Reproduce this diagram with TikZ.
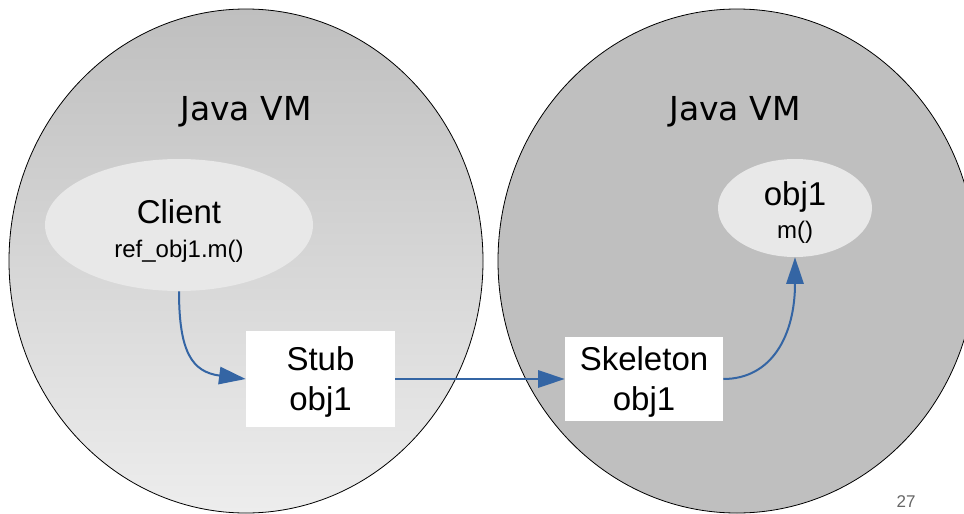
\documentclass[tikz,border=0pt]{standalone}
\usepackage{fontspec}
\setmainfont{Liberation Sans}
\newfontfamily\djv{DejaVu Sans}
\usetikzlibrary{arrows.meta,shapes.geometric}
\definecolor{arrowblue}{HTML}{3465A4}
\definecolor{vmtop}{HTML}{BFBFBF}
\definecolor{vmbot}{HTML}{EDEDED}
\definecolor{vmright}{HTML}{BFBFBF}
\definecolor{inner}{HTML}{E8E8E8}
\definecolor{pagegray}{HTML}{666666}
\tikzset{
  vm/.style={ellipse, draw=black, line width=0.6pt, inner sep=0pt, minimum width=#1, minimum height=378pt},
  vmlabel/.style={anchor=base, font=\djv\fontsize{24.75}{30}\selectfont},
  objell/.style={ellipse, fill=inner, draw=none, inner sep=0pt},
  boxnode/.style={rectangle, fill=white, draw=none, inner sep=0pt, align=center, text depth=0pt, font=\fontsize{24.75}{30}\selectfont},
  bigtxt/.style={anchor=base, font=\fontsize{24.75}{30}\selectfont},
  smalltxt/.style={anchor=base, font=\fontsize{18}{22}\selectfont},
  conn/.style={draw=arrowblue, line width=1.5pt, -{Triangle[length=20pt, width=13pt]}, fill=none},
}
\begin{document}
\begin{tikzpicture}[x=0.75pt,y=-0.75pt]
\useasboundingbox (0,0) rectangle (964,514);
\fill[white] (0,0) rectangle (964,514);
% virtual machines
\node[vm=355.5pt, top color=vmtop, bottom color=vmbot] (vmL) at (246,261) {};
\node[vm=358.5pt, fill=vmright] (vmR) at (737,261) {};
\node[vmlabel] (vmLt) at (246,120) {Java VM};
\node[vmlabel] (vmRt) at (735,120) {Java VM};
% client
\node[objell, minimum width=201pt, minimum height=99pt] (client) at (179,225) {};
\node[bigtxt] (clientt) at (179,223) {Client};
\node[smalltxt] (clientm) at (179,257) {ref\_obj1.m()};
% obj1
\node[objell, minimum width=115.5pt, minimum height=73.5pt] (obj) at (795,208) {};
\node[bigtxt] (objt) at (795,205) {obj1};
\node[smalltxt] (objm) at (795,238) {m()};
% stub and skeleton
\node[boxnode, minimum width=111.75pt, minimum height=72pt] (stub) at (320.5,379) {Stub\\obj1};
\node[boxnode, minimum width=118.5pt, minimum height=63pt] (skel) at (644,379) {Skeleton\\obj1};
% connectors
\draw[conn] (client.south) .. controls (179,352) and (192,372) .. (stub.west);
\draw[conn] (stub.east) -- (skel.west);
\draw[conn] (skel.east) .. controls (772,379) and (795,335) .. (obj.south);
% page number
\node[anchor=base, text=pagegray, font=\fontsize{12.75}{15}\selectfont] (page) at (906,507) {27};
\end{tikzpicture}
\end{document}
